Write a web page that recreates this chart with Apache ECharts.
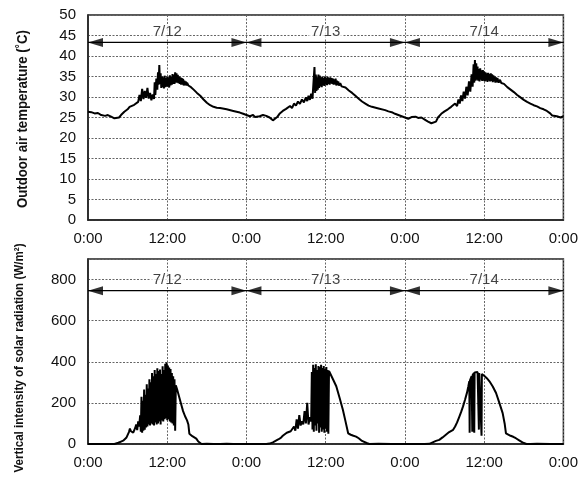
<!DOCTYPE html>
<html><head><meta charset="utf-8">
<script src="https://cdn.jsdelivr.net/npm/echarts@6/dist/echarts.min.js"></script>
<style>html,body{margin:0;padding:0;background:#fff}#c{width:581px;height:480px}</style>
</head><body><div id="c"></div>
<script>
// ---- data ----
const xTickLabels = ['0:00','12:00','0:00','12:00','0:00','12:00','0:00'];
const dayNames = ['7/12','7/13','7/14'];
const dayStart = [0, 24, 48];
const dayEnd = [24, 48, 72];
const dayMid = [12, 36, 60];
const tempArrowLevel = 43.3, tempLabelLevel = 45;
const radArrowLevel = 746, radLabelLevel = 800;
const tempTitle = 'Outdoor air temperature (\u02DAC)';
const radTitle = 'Vertical intensity of solar radiation (W/m\u00B2)';

const tempDay1 = [[0,26.4],[0.5,26.3],[1,26.0],[1.5,26.1],[2,25.6],[2.3,25.9],[2.6,25.4],[3,25.6],[3.5,25.2],[4,24.8],[4.3,24.4],[4.7,25.0],[5,25.6],[5.5,26.4],[6,27.0],[6.3,27.6],[6.6,27.4],[7,28.1],[7.3,27.9],[7.6,28.8],[7.8,30.5],[8.0,29.0],[8.2,32.0],[8.4,29.5],[8.6,31.5],[8.8,29.8],[9.0,32.2],[9.2,29.6],[9.4,31.0],[9.6,29.2],[9.8,30.6],[10.0,29.5],[10.1,33.6],[10.2,30.5],[10.35,34.5],[10.5,31.8],[10.6,36.0],[10.7,33.0],[10.8,37.8],[10.9,33.2],[11.0,35.8],[11.1,32.2],[11.2,35.0],[11.3,32.4],[11.4,34.8],[11.5,32.1],[11.6,35.2],[11.7,32.4],[11.8,34.6],[11.9,32.5],[12.0,35.0],[12.1,32.6],[12.2,34.8],[12.3,32.3],[12.4,35.3],[12.5,32.8],[12.6,35.0],[12.7,33.0],[12.8,35.6],[12.9,33.2],[13.0,35.4],[13.1,33.2],[13.2,36.0],[13.3,33.5],[13.4,35.8],[13.5,33.5],[13.6,35.4],[13.7,33.4],[13.8,35.0],[13.9,33.2],[14.0,34.8],[14.1,33.0],[14.2,34.6],[14.3,33.0],[14.4,34.4],[14.5,32.8],[14.6,34.0],[14.7,32.9],[14.8,33.8],[14.9,32.8],[15.0,33.5],[15.2,32.8],[15.4,33.0],[15.6,32.4],[16,31.8],[16.5,31.0],[17,30.3],[17.5,29.4],[18,28.6],[18.5,28.0],[19,27.6],[19.5,27.4],[20,27.3],[21,27.0],[22,26.6],[23,26.2],[23.5,25.9],[24,25.6]];
const tempDay2 = [[24.5,25.3],[25,25.6],[25.3,25.1],[25.6,25.5],[26,25.3],[26.5,25.6],[27,25.4],[27.5,25.0],[28,24.3],[28.3,24.1],[28.7,25.2],[29,25.9],[29.5,26.6],[30,27.1],[30.3,26.8],[30.6,27.8],[30.9,27.3],[31.2,28.4],[31.5,27.9],[31.8,28.9],[32.1,28.3],[32.4,29.4],[32.7,28.7],[33.0,29.9],[33.2,29.0],[33.4,30.3],[33.6,29.3],[33.8,30.8],[34.0,29.6],[34.15,33.5],[34.3,37.3],[34.4,31.0],[34.5,35.5],[34.6,31.5],[34.7,34.8],[34.8,31.8],[34.9,35.5],[35.0,32.2],[35.1,35.2],[35.2,32.6],[35.3,34.8],[35.4,32.4],[35.5,35.0],[35.6,32.8],[35.7,34.6],[35.8,32.7],[35.9,35.0],[36.0,33.0],[36.1,34.7],[36.2,32.9],[36.3,34.9],[36.4,33.2],[36.5,34.6],[36.6,33.0],[36.7,34.8],[36.8,33.3],[36.9,34.6],[37.0,33.2],[37.1,34.5],[37.2,33.0],[37.3,34.3],[37.4,33.1],[37.5,34.5],[37.6,32.8],[37.7,34.0],[37.8,32.9],[37.9,33.8],[38.0,32.8],[38.2,33.4],[38.4,32.6],[38.6,33.0],[39,32.3],[39.5,31.6],[40,31.0],[40.5,30.3],[41,29.6],[41.5,28.9],[42,28.4],[42.5,27.9],[43,27.6],[44,27.2],[45,26.8],[45.5,26.5],[46,26.3],[46.5,25.9],[47,25.6],[47.5,25.3],[48,25.0]];
const tempDay3 = [[48.5,24.7],[49,25.1],[49.3,24.8],[49.6,25.2],[50,24.9],[50.5,25.0],[51,24.5],[51.5,24.0],[52,23.6],[52.3,23.3],[52.7,24.0],[53,25.0],[53.5,25.9],[54,26.5],[54.5,27.0],[54.8,26.8],[55,27.6],[55.3,27.3],[55.6,28.4],[55.9,27.8],[56.1,29.4],[56.3,28.4],[56.5,30.4],[56.7,29.0],[56.9,31.3],[57.1,29.6],[57.3,32.5],[57.5,30.4],[57.7,33.8],[57.9,31.3],[58.1,35.5],[58.25,32.5],[58.4,38.0],[58.5,33.5],[58.6,39.0],[58.7,34.0],[58.8,38.2],[58.9,34.2],[59.0,37.4],[59.1,34.0],[59.2,36.8],[59.3,33.8],[59.4,37.0],[59.5,34.2],[59.6,36.5],[59.7,33.9],[59.8,36.6],[59.9,34.0],[60.0,36.2],[60.1,33.8],[60.2,36.0],[60.3,34.0],[60.4,35.8],[60.5,33.7],[60.6,35.9],[60.7,34.0],[60.8,35.6],[60.9,33.8],[61.0,35.8],[61.1,33.9],[61.2,35.5],[61.3,33.6],[61.4,35.3],[61.5,33.8],[61.6,35.0],[61.7,33.5],[61.8,34.8],[61.9,33.6],[62.0,34.6],[62.2,33.5],[62.4,34.2],[62.6,33.4],[62.8,33.8],[63,33.2],[63.5,32.4],[64,31.8],[64.5,31.2],[65,30.5],[65.5,29.9],[66,29.3],[66.5,28.8],[67,28.4],[67.5,28.0],[68,27.7],[68.5,27.3],[69,27.0],[69.5,26.6],[70,26.0],[70.3,25.5],[70.6,25.7],[71,25.3],[71.3,25.6],[71.6,25.0],[72,25.3]];

const radDay1 = [[0,0],[1,0],[2,0],[3,0],[4,0],[4.2,1],[4.6,6],[5,12],[5.4,18],[5.8,30],[6.0,36],[6.2,58],[6.35,75],[6.5,62],[6.7,70],[6.85,55],[7.0,48],[7.15,78],[7.3,95],[7.45,68],[7.6,110],[7.75,85],[7.9,140],[8.0,60],[8.1,230],[8.2,55],[8.3,210],[8.4,65],[8.5,265],[8.6,70],[8.7,240],[8.8,80],[8.9,290],[9.0,85],[9.1,270],[9.2,95],[9.3,315],[9.4,90],[9.5,300],[9.6,100],[9.7,345],[9.8,95],[9.9,330],[10.0,90],[10.1,360],[10.2,105],[10.3,340],[10.4,95],[10.5,368],[10.6,100],[10.7,355],[10.8,110],[10.9,362],[11.0,95],[11.1,340],[11.2,115],[11.3,378],[11.4,110],[11.5,360],[11.6,120],[11.7,390],[11.8,125],[11.9,396],[12.0,115],[12.1,382],[12.2,120],[12.3,372],[12.4,110],[12.5,365],[12.6,105],[12.7,345],[12.8,100],[12.9,330],[13.0,90],[13.1,315],[13.2,65],[13.3,285],[13.5,265],[13.8,230],[14.1,195],[14.4,160],[14.7,135],[15.0,115],[15.2,95],[15.35,50],[15.5,42],[15.8,38],[16.1,32],[16.4,26],[16.7,12],[16.9,3],[17.2,0],[18,1],[19,0],[20,0],[21,1],[22,0],[23,0],[24,0]];
const radDay2 = [[25,0],[26,0],[27,0],[27.5,2],[28,8],[28.4,15],[28.8,22],[29.2,30],[29.5,40],[29.8,35],[30.1,55],[30.4,48],[30.7,62],[31.0,58],[31.2,85],[31.4,65],[31.6,120],[31.8,75],[32.0,140],[32.2,90],[32.4,110],[32.6,95],[32.8,160],[33.0,100],[33.2,200],[33.4,95],[33.6,130],[33.8,110],[33.9,350],[34.0,70],[34.1,385],[34.2,60],[34.3,370],[34.4,90],[34.5,388],[34.6,65],[34.7,360],[34.8,100],[34.9,380],[35.0,55],[35.1,375],[35.2,80],[35.3,385],[35.4,60],[35.5,370],[35.6,70],[35.7,380],[35.8,55],[35.9,365],[36.0,75],[36.1,375],[36.2,60],[36.3,360],[36.4,50],[36.5,355],[36.6,346],[37.1,315],[37.6,281],[38.1,225],[38.6,167],[39.0,110],[39.4,52],[39.8,45],[40.2,40],[40.6,36],[41.0,28],[41.5,15],[42.2,5],[42.6,0],[44,1],[46,0],[48,0]];
const radDay3 = [[49,0],[50,0],[51,0],[51.7,1],[52.2,8],[52.7,15],[53.2,20],[53.7,32],[54.2,45],[54.7,58],[55.3,69],[55.6,85],[55.9,105],[56.2,130],[56.5,155],[56.8,183],[57.1,215],[57.4,250],[57.6,280],[57.75,305],[57.8,55],[57.85,310],[58.1,330],[58.2,60],[58.25,335],[58.45,345],[58.5,55],[58.55,348],[58.8,352],[59.0,350],[59.15,346],[59.2,70],[59.25,345],[59.55,342],[59.6,40],[59.65,340],[60.0,332],[60.4,320],[60.8,305],[61.3,280],[61.8,248],[62.3,200],[62.8,150],[63.1,100],[63.3,52],[63.6,45],[64.0,40],[64.4,35],[64.8,28],[65.3,18],[65.8,8],[66.4,0],[67,0],[68,1],[70,0],[72,0]];

// ---- chart ----
const FONT = '"Liberation Sans", Arial, Helvetica, sans-serif';
const chart = echarts.init(document.getElementById('c'), null, {renderer: 'canvas'});

function xAxisCfg(gi) {
  return {
    type: 'value', gridIndex: gi, min: 0, max: 72, interval: 12,
    axisLine: {show: true, onZero: false, lineStyle: {color: '#222', width: 1.5}},
    axisTick: {show: false},
    axisLabel: {margin: 11, fontSize: 15, color: '#111', fontFamily: FONT,
      formatter: v => xTickLabels[Math.round(v / 12)]},
    splitLine: {show: true, lineStyle: {color: '#666', width: 1, type: [2, 1.5]}}
  };
}
function yAxisCfg(gi, max, interval) {
  return {
    type: 'value', gridIndex: gi, min: 0, max: max, interval: interval,
    axisLine: {show: true, lineStyle: {color: '#222', width: 1.5}},
    axisTick: {show: false},
    axisLabel: {margin: 12, fontSize: 15, color: '#111', fontFamily: FONT,
      formatter: v => (v > max - interval / 2 && max % interval !== 0) ? '' : String(v)},
    splitLine: {show: true, lineStyle: {color: '#666', width: 1, type: [2, 1.5]}}
  };
}

function dataLine(data, gi) {
  return {type: 'line', xAxisIndex: gi, yAxisIndex: gi, data: data, symbol: 'none',
    lineStyle: {color: '#000', width: 2}, silent: true, animation: false, z: 3};
}
function arrowSeries(gi, level) {
  const segs = [];
  for (let i = 0; i < dayStart.length; i++) {
    segs.push([dayStart[i], level], [dayEnd[i], level]);
    if (i < dayStart.length - 1) segs.push([null, null]);
  }
  const heads = [];
  for (let i = 0; i < dayStart.length; i++) {
    heads.push({value: [dayStart[i], level], symbolRotate: 90, symbolOffset: [7.5, 0]});
    heads.push({value: [dayEnd[i], level], symbolRotate: -90, symbolOffset: [-7.5, 0]});
  }
  return [
    {type: 'line', xAxisIndex: gi, yAxisIndex: gi, data: segs, symbol: 'none', connectNulls: false,
      lineStyle: {color: '#000', width: 1.2}, silent: true, animation: false, z: 4},
    {type: 'scatter', xAxisIndex: gi, yAxisIndex: gi, data: heads, symbol: 'triangle',
      symbolSize: [9, 15], itemStyle: {color: '#000'}, silent: true, animation: false, z: 5}
  ];
}
function dayLabelSeries(gi, level, pos) {
  return {type: 'scatter', xAxisIndex: gi, yAxisIndex: gi, symbolSize: 1,
    itemStyle: {color: 'rgba(0,0,0,0)'}, silent: true, animation: false, z: 6,
    data: dayMid.map((m, i) => ({value: [m, level], name: dayNames[i]})),
    label: {show: true, formatter: p => p.name, position: pos, distance: pos === 'top' ? -4 : 0,
      fontSize: 15, color: '#111', fontFamily: FONT, backgroundColor: '#fff', padding: [0, 2]}};
}

// condensed bold axis titles: scale to the measured length of the reference
function titleScale(text, font, targetLen) {
  const ctx = document.createElement('canvas').getContext('2d');
  ctx.font = font;
  return targetLen / ctx.measureText(text).width;
}
const tFont1 = 'bold 15px "Liberation Sans", Arial, sans-serif';
const tFont2 = 'bold 13px "Liberation Sans", Arial, sans-serif';

const option = {
  backgroundColor: '#fff',
  animation: false,
  grid: [
    {left: 88, right: 16, top: 15, height: 205, show: true, borderColor: '#222', borderWidth: 1.5, backgroundColor: 'transparent'},
    {left: 88, right: 16, top: 259, height: 185, show: true, borderColor: '#222', borderWidth: 1.5, backgroundColor: 'transparent'}
  ],
  xAxis: [xAxisCfg(0), xAxisCfg(1)],
  yAxis: [yAxisCfg(0, 50, 5), yAxisCfg(1, 900, 200)],
  series: [
    dataLine(tempDay1.concat(tempDay2, tempDay3), 0),
    dataLine(radDay1.concat(radDay2, radDay3), 1),
    ...arrowSeries(0, tempArrowLevel),
    ...arrowSeries(1, radArrowLevel),
    dayLabelSeries(0, tempLabelLevel, 'top'),
    dayLabelSeries(1, radLabelLevel, 'inside')
  ],
  graphic: [
    {type: 'text', x: 23, y: 119, rotation: Math.PI / 2, scaleX: titleScale(tempTitle, tFont1, 178), silent: true,
      style: {text: tempTitle, font: tFont1, align: 'center', verticalAlign: 'middle', fill: '#111'}},
    {type: 'text', x: 19, y: 358, rotation: Math.PI / 2, scaleX: titleScale(radTitle, tFont2, 229), silent: true,
      style: {text: radTitle, font: tFont2, align: 'center', verticalAlign: 'middle', fill: '#111'}}
  ]
};
chart.setOption(option);
</script></body></html>
